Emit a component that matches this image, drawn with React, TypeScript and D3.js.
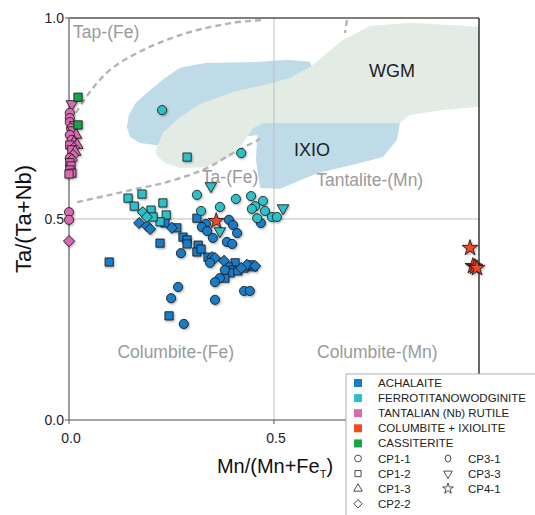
import React from "react";
import * as d3 from "d3";

type Pt = [number, number, string];

// Mn/(Mn+Fe), Ta/(Ta+Nb), symbol
const achalaite: Pt[] = [
  [0.098, 0.393, "square"], [0.222, 0.440, "square"], [0.244, 0.259, "square"],
  [0.312, 0.502, "square"], [0.234, 0.490, "square"], [0.263, 0.478, "square"],
  [0.278, 0.455, "square"], [0.288, 0.448, "square"], [0.288, 0.438, "square"],
  [0.315, 0.435, "square"], [0.312, 0.418, "square"], [0.322, 0.425, "square"],
  [0.339, 0.405, "square"], [0.405, 0.391, "square"], [0.388, 0.381, "square"],
  [0.400, 0.373, "square"], [0.449, 0.381, "square"], [0.393, 0.366, "square"],
  [0.380, 0.353, "square"], [0.427, 0.378, "square"], [0.441, 0.386, "square"],
  [0.412, 0.371, "square"],
  [0.171, 0.490, "diamond"], [0.190, 0.483, "diamond"], [0.198, 0.475, "diamond"],
  [0.251, 0.478, "diamond"], [0.349, 0.405, "diamond"], [0.356, 0.403, "diamond"],
  [0.378, 0.396, "diamond"], [0.434, 0.386, "diamond"], [0.420, 0.378, "diamond"],
  [0.454, 0.383, "diamond"],
  [0.334, 0.488, "circle"], [0.324, 0.480, "circle"], [0.337, 0.470, "circle"],
  [0.390, 0.498, "circle"], [0.400, 0.485, "circle"], [0.410, 0.465, "circle"],
  [0.351, 0.453, "circle"], [0.385, 0.443, "circle"], [0.398, 0.438, "circle"],
  [0.273, 0.415, "circle"], [0.344, 0.391, "circle"], [0.368, 0.353, "circle"],
  [0.356, 0.343, "circle"], [0.266, 0.331, "circle"], [0.249, 0.303, "circle"],
  [0.356, 0.299, "circle"], [0.427, 0.321, "circle"], [0.441, 0.321, "circle"],
  [0.280, 0.239, "circle"], [0.380, 0.373, "circle"], [0.468, 0.490, "circle"],
];

const ferrotitanowodginite: Pt[] = [
  [0.144, 0.552, "square"], [0.178, 0.562, "square"], [0.159, 0.532, "square"],
  [0.200, 0.522, "square"], [0.229, 0.540, "square"], [0.237, 0.510, "square"],
  [0.222, 0.493, "square"], [0.205, 0.505, "square"], [0.288, 0.654, "square"],
  [0.180, 0.517, "diamond"], [0.190, 0.505, "diamond"],
  [0.227, 0.771, "circle"], [0.420, 0.664, "circle"], [0.312, 0.560, "circle"],
  [0.407, 0.550, "circle"], [0.368, 0.530, "circle"], [0.322, 0.520, "circle"],
  [0.444, 0.557, "circle"], [0.473, 0.545, "circle"], [0.454, 0.532, "circle"],
  [0.478, 0.520, "circle"], [0.459, 0.502, "circle"], [0.495, 0.505, "circle"],
  [0.507, 0.505, "circle"], [0.446, 0.525, "circle"],
  [0.346, 0.582, "triDown"], [0.368, 0.470, "triDown"], [0.522, 0.527, "triDown"],
];

const rutile: Pt[] = [
  [0.007, 0.786, "triDown"], [0.002, 0.764, "circle"], [0.002, 0.751, "circle"],
  [0.002, 0.741, "circle"], [0.015, 0.734, "triDown"], [0.005, 0.726, "circle"],
  [0.010, 0.721, "triDown"], [0.017, 0.709, "triUp"], [0.002, 0.709, "circle"],
  [0.007, 0.697, "circle"], [0.012, 0.690, "triUp"], [0.002, 0.684, "square"],
  [0.020, 0.684, "triUp"], [0.012, 0.677, "diamond"], [0.007, 0.672, "square"],
  [0.015, 0.667, "triUp"], [0.010, 0.659, "diamond"], [0.002, 0.652, "circle"],
  [0.007, 0.647, "diamond"], [0.002, 0.640, "square"], [0.005, 0.632, "square"],
  [0.002, 0.622, "square"], [0.007, 0.614, "square"], [0.0, 0.612, "square"],
  [0.0, 0.517, "circle"], [0.0, 0.498, "circle"], [0.0, 0.445, "diamond"],
];

const columbiteIxiolite: Pt[] = [
  [0.359, 0.495, "star"], [0.978, 0.428, "star"], [0.985, 0.383, "star"],
  [0.990, 0.381, "star"], [0.995, 0.378, "star"],
];

const cassiterite: Pt[] = [
  [0.022, 0.803, "square"], [0.022, 0.734, "square"],
];

// field outlines (same axes)
const ixioField: [number, number][] = [
  [0.141, 0.729], [0.146, 0.759], [0.163, 0.789], [0.198, 0.821], [0.234, 0.851],
  [0.271, 0.876], [0.332, 0.888], [0.466, 0.891], [0.532, 0.896], [0.588, 0.891],
  [0.612, 0.821], [0.637, 0.739], [0.807, 0.739], [0.800, 0.697], [0.766, 0.654],
  [0.710, 0.639], [0.605, 0.614], [0.515, 0.575], [0.466, 0.577], [0.456, 0.647],
  [0.459, 0.709], [0.368, 0.697], [0.222, 0.682], [0.173, 0.689], [0.149, 0.704],
];

const wgmField: [number, number][] = [
  [0.210, 0.667], [0.229, 0.714], [0.271, 0.754], [0.320, 0.786], [0.400, 0.816],
  [0.466, 0.831], [0.539, 0.851], [0.588, 0.878], [0.668, 0.945], [0.734, 0.980],
  [0.832, 0.988], [1.0, 0.978], [1.0, 0.779], [0.912, 0.771], [0.832, 0.759],
  [0.807, 0.739], [0.473, 0.739], [0.449, 0.726], [0.405, 0.659], [0.332, 0.629],
  [0.271, 0.627], [0.234, 0.639], [0.215, 0.657],
];

const upperBoundary: [number, number][] = [
  [0.017, 0.764], [0.051, 0.816], [0.100, 0.871], [0.180, 0.920],
  [0.288, 0.963], [0.400, 0.988], [0.471, 0.995],
];
const upperBoundaryTail: [number, number][] = [[0.678, 0.995], [0.673, 0.963]];

const lowerBoundary: [number, number][] = [
  [0.020, 0.542], [0.100, 0.560], [0.173, 0.577], [0.239, 0.592],
  [0.337, 0.627], [0.400, 0.664], [0.466, 0.699],
];

const fieldLabels: { text: string; x: number; y: number; dark?: boolean }[] = [
  { text: "Tap-(Fe)", x: 0.01, y: 0.951 },
  { text: "Ta-(Fe)", x: 0.324, y: 0.590 },
  { text: "Tantalite-(Mn)", x: 0.603, y: 0.582 },
  { text: "WGM", x: 0.732, y: 0.854, dark: true },
  { text: "IXIO", x: 0.549, y: 0.656, dark: true },
  { text: "Columbite-(Fe)", x: 0.118, y: 0.154 },
  { text: "Columbite-(Mn)", x: 0.605, y: 0.154 },
];

const groupNames = [
  "ACHALAITE",
  "FERROTITANOWODGINITE",
  "TANTALIAN (Nb) RUTILE",
  "COLUMBITE + IXIOLITE",
  "CASSITERITE",
];
const groupColors = ["#1a7bc3", "#2dbfc7", "#d86bb2", "#ef4a25", "#18a34b"];
const groupData = [achalaite, ferrotitanowodginite, rutile, columbiteIxiolite, cassiterite];

const sampleNames = ["CP1-1", "CP1-2", "CP1-3", "CP2-2", "CP3-1", "CP3-3", "CP4-1"];
const sampleShapes = ["circle", "square", "triUp", "diamond", "oval", "triDown", "star"];

const xTicks = [0, 0.5];
const yTicks = [0, 0.5, 1];

const FONT = "'Liberation Sans', Arial, sans-serif";

function symbolFor(shape: string, scale = 1) {
  const gen = d3.symbol();
  if (shape === "circle") return { d: gen.type(d3.symbolCircle).size(66 * scale)(), rot: 0 };
  if (shape === "square") return { d: gen.type(d3.symbolSquare).size(68 * scale)(), rot: 0 };
  if (shape === "diamond") return { d: gen.type(d3.symbolSquare).size(62 * scale)(), rot: 45 };
  if (shape === "triUp") return { d: gen.type(d3.symbolTriangle).size(58 * scale)(), rot: 0 };
  if (shape === "triDown") return { d: gen.type(d3.symbolTriangle).size(58 * scale)(), rot: 180 };
  if (shape === "star") return { d: gen.type(d3.symbolStar).size(78 * scale)(), rot: 0 };
  return { d: gen.type(d3.symbolCircle).size(40 * scale)(), rot: 0 };
}

export default function App() {
  const x = d3.scaleLinear().domain([0, 1]).range([69, 479]);
  const y = d3.scaleLinear().domain([0, 1]).range([420, 18]);
  const area = d3.line<[number, number]>().x((d) => x(d[0])).y((d) => y(d[1])).curve(d3.curveLinearClosed);
  const curve = d3.line<[number, number]>().x((d) => x(d[0])).y((d) => y(d[1])).curve(d3.curveCatmullRom);

  const legX = 346;
  const legY = 374;
  const rowY = (i: number) => 383 + i * 15.1;

  return (
    <svg width={535} height={515} style={{ position: "absolute", left: 0, top: 0, background: "#fff" }} fontFamily={FONT}>
      <defs>
        <filter id="shadow" x="-50%" y="-50%" width="200%" height="200%">
          <feDropShadow dx="1" dy="1.2" stdDeviation="1.1" floodColor="#000" floodOpacity="0.35" />
        </filter>
        <clipPath id="plot">
          <rect x={x(0)} y={y(1)} width={x(1) - x(0)} height={y(0) - y(1)} />
        </clipPath>
      </defs>

      <g clipPath="url(#plot)">
        <path d={area(ixioField) ?? ""} fill="#bfdbe8" />
        <path d={area(wgmField) ?? ""} fill="#e3ece4" />
      </g>

      {/* grid */}
      <line x1={x(0.5)} x2={x(0.5)} y1={y(1)} y2={y(0)} stroke="#bdbdbd" strokeWidth={1} />
      <line x1={x(0)} x2={x(1)} y1={y(0.5)} y2={y(0.5)} stroke="#bdbdbd" strokeWidth={1} />

      {/* boundaries */}
      {[upperBoundary, upperBoundaryTail, lowerBoundary].map((b, i) => (
        <path key={i} d={curve(b) ?? ""} fill="none" stroke="#b4b4b4" strokeWidth={2.4} strokeDasharray="6,4" />
      ))}

      {fieldLabels.map((l) => (
        <text key={l.text} x={x(l.x)} y={y(l.y)} fontSize={l.dark ? 18 : 17.5} fill={l.dark ? "#1e1e1e" : "#9a9a9a"}>
          {l.text}
        </text>
      ))}

      {/* frame */}
      <line x1={x(0)} x2={x(1)} y1={y(1)} y2={y(1)} stroke="#000" strokeWidth={1.2} />
      <line x1={x(1)} x2={x(1)} y1={y(1)} y2={legY} stroke="#000" strokeWidth={1.2} />
      <line x1={x(0)} x2={x(0)} y1={y(1)} y2={y(0)} stroke="#858585" strokeWidth={1.6} />
      <line x1={x(0)} x2={x(1)} y1={y(0)} y2={y(0)} stroke="#858585" strokeWidth={1.6} />

      {yTicks.map((t) => (
        <g key={"y" + t}>
          <line x1={x(0) - 4} x2={x(0)} y1={y(t)} y2={y(t)} stroke="#555" strokeWidth={1} />
          <text x={x(0) - 5} y={y(t)} dy="0.35em" textAnchor="end" fontSize={14} fill="#222">
            {d3.format(".1f")(t)}
          </text>
        </g>
      ))}
      {xTicks.map((t) => (
        <g key={"x" + t}>
          <line x1={x(t)} x2={x(t)} y1={y(0)} y2={y(0) + 4} stroke="#555" strokeWidth={1} />
          <text x={x(t) + 2} y={y(0) + 23} textAnchor="middle" fontSize={14} fill="#222">
            {d3.format(".1f")(t)}
          </text>
        </g>
      ))}

      <text transform={`translate(31,${y(0.5)}) rotate(-90)`} textAnchor="middle" fontSize={22} fill="#111">
        Ta/(Ta+Nb)
      </text>
      <text x={275} y={473} textAnchor="middle" fontSize={20} fill="#111">
        <tspan>Mn/(Mn+Fe</tspan>
        <tspan fontSize={11} dy={5}>T</tspan>
        <tspan dy={-5}>)</tspan>
      </text>

      {/* points */}
      <g filter="url(#shadow)">
        {groupData.map((pts, gi) =>
          pts.map((p, i) => {
            const s = symbolFor(p[2]);
            return (
              <path
                key={gi + "-" + i}
                d={s.d ?? ""}
                transform={`translate(${x(p[0])},${y(p[1])}) rotate(${s.rot})`}
                fill={groupColors[gi]}
                stroke="#111"
                strokeWidth={0.8}
              />
            );
          })
        )}
      </g>

      {/* legend */}
      <rect x={legX} y={legY} width={200} height={150} fill="#fff" stroke="#b0b0b0" strokeWidth={1} />
      {groupNames.map((n, i) => (
        <g key={n}>
          <rect x={354} y={rowY(i) - 4} width={8} height={8} fill={groupColors[i]} />
          <text x={378} y={rowY(i)} dy="0.35em" fontSize={11.5} fill="#222">
            {n}
          </text>
        </g>
      ))}
      {sampleNames.map((n, i) => {
        const col = i < 4 ? 0 : 1;
        const row = 5 + (i < 4 ? i : i - 4);
        const cx = col === 0 ? 358 : 448;
        const tx = col === 0 ? 378 : 468;
        const s = symbolFor(sampleShapes[i], sampleShapes[i] === "star" ? 0.45 : 0.55);
        return (
          <g key={n}>
            {sampleShapes[i] === "oval" ? (
              <ellipse cx={cx} cy={rowY(row)} rx={2.8} ry={3.6} fill="none" stroke="#222" strokeWidth={0.8} />
            ) : (
              <path
                d={s.d ?? ""}
                transform={`translate(${cx},${rowY(row)}) rotate(${s.rot})`}
                fill="none"
                stroke="#222"
                strokeWidth={0.8}
              />
            )}
            <text x={tx} y={rowY(row)} dy="0.35em" fontSize={11.5} fill="#222">
              {n}
            </text>
          </g>
        );
      })}
    </svg>
  );
}
